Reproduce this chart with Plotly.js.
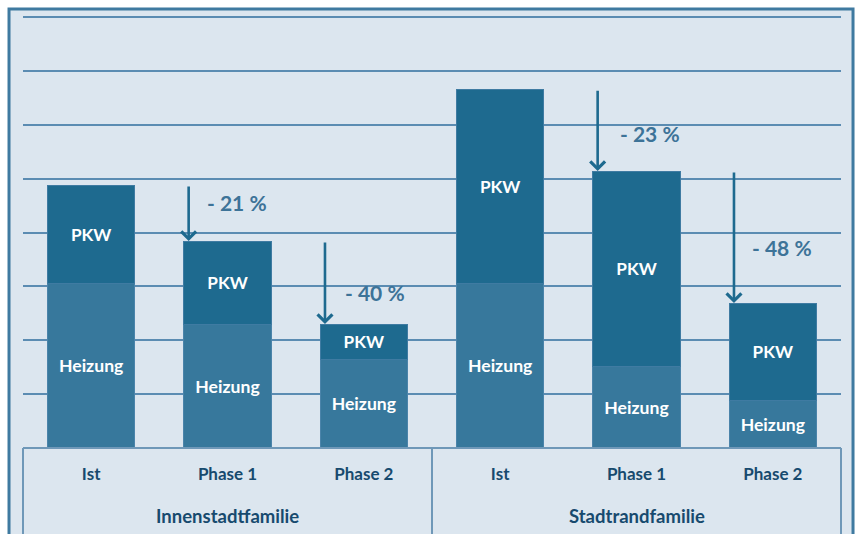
<!DOCTYPE html>
<html><head><meta charset="utf-8">
<script src="https://cdn.plot.ly/plotly-3.0.1.min.js"></script>
<style>html,body{margin:0;padding:0;background:#fff;}#chart{width:857px;height:534px;}</style>
</head><body><div id="chart"></div>
<script>
// --- data (units = gridline steps) ---
const categories = ['Ist', 'Phase 1', 'Phase 2', 'Ist', 'Phase 1', 'Phase 2'];
const groups = ['Innenstadtfamilie', 'Stadtrandfamilie'];
const heizung = [3.06, 2.30, 1.65, 3.06, 1.52, 0.89];
const pkw = [1.82, 1.54, 0.65, 3.60, 3.62, 1.80];
const reductionLabels = ['', '- 21 %', '- 40 %', '', '- 23 %', '- 48 %'];

const xs = categories.map((c, i) => i);
const totals = heizung.map((h, i) => h + pkw[i]);

const darkBlue = '#1e6a8f';
const midBlue = '#37789c';
const lineBlue = '#5b8cb2';
const font = 'Lato, "Open Sans", sans-serif';
const yMax = 8;

const traces = [
  { type: 'bar', x: xs, y: heizung, name: 'Heizung', text: heizung.map(() => '<b>Heizung</b>'),
    marker: { color: midBlue, line: { color: '#4b84aa', width: 1 } }, width: 0.64,
    textposition: 'inside', insidetextanchor: 'middle', constraintext: 'none',
    textfont: { family: font, size: 17.6, color: '#ffffff' }, hoverinfo: 'skip' },
  { type: 'bar', x: xs, y: pkw, name: 'PKW', text: pkw.map(() => '<b>PKW</b>'),
    marker: { color: darkBlue, line: { color: '#3f7ba2', width: 1 } }, width: 0.64,
    textposition: 'inside', insidetextanchor: 'middle', constraintext: 'none',
    textfont: { family: font, size: 17.2, color: '#ffffff' }, hoverinfo: 'skip' }
];

const annotations = [];
// arrows from previous bar's total to current bar's total
xs.forEach((x, i) => {
  if (reductionLabels[i] === '') return;
  annotations.push({ x: x - 0.285, y: totals[i], xref: 'x', yref: 'y',
    ax: x - 0.285, ay: totals[i - 1], axref: 'x', ayref: 'y', text: '',
    showarrow: true, arrowhead: 4, arrowsize: 1.1, arrowwidth: 2.6, arrowcolor: darkBlue });
});
const labelPos = [null, [1.067, 4.55], [2.08, 2.88], null, [4.10, 5.83], [5.07, 3.73]];
reductionLabels.forEach((t, i) => {
  if (!t) return;
  annotations.push({ x: labelPos[i][0], y: labelPos[i][1], xref: 'x', yref: 'y', text: '<b>' + t + '</b>',
    showarrow: false, font: { family: font, size: 21, color: '#3d7398' } });
});
groups.forEach((g, k) => {
  annotations.push({ x: 1 + 3 * k, y: -0.158, xref: 'x', yref: 'paper', text: '<b>' + g + '</b>',
    showarrow: false, yanchor: 'middle', font: { family: font, size: 18.5, color: '#174a6e' } });
});

const shapes = [
  // outer frame
  { type: 'rect', xref: 'paper', yref: 'paper', x0: -0.0171, x1: 1.0147, y0: -0.25, y1: 1.0186,
    fillcolor: '#dce6ef', line: { color: '#3f7aa0', width: 3 }, layer: 'below' },
  // top gridline (Plotly hides gridlines at the range edge)
  { type: 'line', xref: 'paper', yref: 'paper', x0: 0, x1: 1, y0: 1, y1: 1, line: { color: lineBlue, width: 2 }, layer: 'below' },
  // table lines
  { type: 'line', xref: 'paper', yref: 'paper', x0: 0, x1: 1, y0: 0, y1: 0, line: { color: '#6f98b8', width: 2 } },
  { type: 'line', xref: 'paper', yref: 'paper', x0: 0, x1: 0, y0: 0, y1: -0.25, line: { color: '#6f98b8', width: 2 } },
  { type: 'line', xref: 'x', yref: 'paper', x0: 2.5, x1: 2.5, y0: 0, y1: -0.25, line: { color: '#6f98b8', width: 2 } },
  { type: 'line', xref: 'paper', yref: 'paper', x0: 1, x1: 1, y0: 0, y1: -0.25, line: { color: '#6f98b8', width: 2 } }
];

const layout = {
  width: 857, height: 534,
  margin: { l: 23, r: 16, t: 17, b: 86 },
  paper_bgcolor: '#ffffff', plot_bgcolor: 'rgba(0,0,0,0)',
  barmode: 'stack', showlegend: false,
  xaxis: { range: [-0.5, 5.5], tickvals: xs, ticktext: categories.map(c => '<b>' + c + '</b>'),
    tickfont: { family: font, size: 17, color: '#174a6e' }, showgrid: false, zeroline: false,
    showline: false, ticks: '', ticklabelstandoff: 14, fixedrange: true },
  yaxis: { range: [0, yMax], dtick: 1, showticklabels: false, showgrid: true, gridcolor: lineBlue,
    gridwidth: 2, zeroline: false, ticks: '', fixedrange: true },
  annotations: annotations, shapes: shapes
};
Plotly.newPlot('chart', traces, layout, { displayModeBar: false, staticPlot: true });
</script></body></html>
